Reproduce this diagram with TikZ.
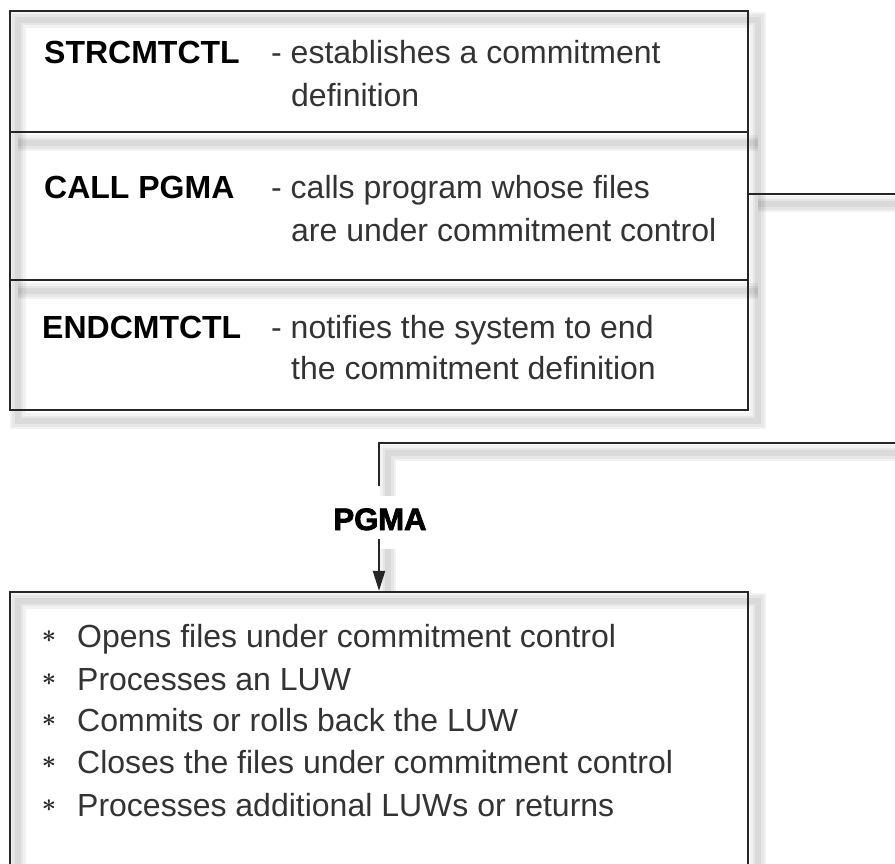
\documentclass[tikz,border=0pt]{standalone}
\usepackage{fontspec}
\setmainfont{Liberation Sans}
\usetikzlibrary{arrows.meta}
\pgfdeclarelayer{bg}
\pgfsetlayers{bg,main}
\tikzset{
  frame/.style={draw=black!85, line width=2.2pt, rectangle, inner sep=0pt},
  conn/.style={draw=black!85, line width=2.2pt},
  lab/.style={anchor=base west, inner sep=0pt, font=\fontsize{32}{38}\selectfont\bfseries, text=black},
  desc/.style={anchor=base west, inner sep=0pt, font=\fontsize{32}{38}\selectfont, text=black!80},
  bul/.style={anchor=center, inner sep=0pt, font=\fontsize{30}{30}\selectfont\boldmath, text=black!85},
  pglab/.style={anchor=base, inner sep=0pt, font=\fontsize{31}{36}\selectfont\bfseries\addfontfeature{FakeBold=2.5}, text=black},
  shd/.style={line width=#1, black, opacity=0.05, transform canvas={xshift=9pt, yshift=-10pt}},
}
\newcommand\shadowit[1]{\foreach \w in {16,11,6}{\draw[shd=\w pt] #1;}}
\begin{document}
\begin{tikzpicture}[x=1pt,y=-1pt]
\path[use as bounding box] (0,0) rectangle (895,863);
\clip (0,0) rectangle (895,863);
% top box rows
\node[frame, minimum width=738pt, minimum height=121pt] (r1) at (379,71.5) {};
\node[frame, minimum width=738pt, minimum height=148pt] (r2) at (379,206) {};
\node[frame, minimum width=738pt, minimum height=130pt] (r3) at (379,345) {};
% texts
\node[lab] (l1) at (44,63) {STRCMTCTL};
\node[desc] (d1a) at (271,63) {- establishes a commitment};
\node[desc] (d1b) at (291,106) {definition};
\node[lab] (l2) at (44,198) {CALL PGMA};
\node[desc] (d2a) at (271,198) {- calls program whose files};
\node[desc] (d2b) at (291,241) {are under commitment control};
\node[lab] (l3) at (42,338) {ENDCMTCTL};
\node[desc] (d3a) at (271,338) {- notifies the system to end};
\node[desc] (d3b) at (291,379) {the commitment definition};
% bottom box
\node[frame, minimum width=738pt, minimum height=308pt] (bx) at (379,746) {};
\foreach \y/\t/\n in {647/Opens files under commitment control/b1,
                      690/Processes an LUW/b2,
                      731/Commits or rolls back the LUW/b3,
                      773/Closes the files under commitment control/b4,
                      816/Processes additional LUWs or returns/b5}{
  \node[bul] (s\n) at (49,\y-10) {$\ast$};
  \node[desc] (\n) at (77,\y) {\t};
}
% PGMA label
\node[pglab] (pg) at (380,530) {PGMA};
% connectors
\coordinate (e1) at (895,194);
\coordinate (e2) at (895,443);
\coordinate (k2) at (379,486);
\draw[conn] (r2.east |- e1) -- (e1);
\draw[conn] (e2) -- (e2 -| k2) -- (k2);
\draw[conn, -{Triangle[length=20pt,width=12pt]}, shorten <=8pt] (k2 |- pg.south) -- (k2 |- bx.north);
% shadows
\begin{pgfonlayer}{bg}
\shadowit{(r1.north west) rectangle (r3.south east)}
\shadowit{(r1.south west) -- (r1.south east)}
\shadowit{(r2.south west) -- (r2.south east)}
\shadowit{(r2.east |- e1) -- (e1)}
\shadowit{(e2) -- (e2 -| k2) -- (k2)}
\shadowit{([yshift=-8pt]k2 |- pg.south) -- ([yshift=8pt]k2 |- bx.north)}
\shadowit{(bx.south west) -- (bx.north west) -- (bx.north east) -- (bx.south east)}
\end{pgfonlayer}
\end{tikzpicture}
\end{document}
